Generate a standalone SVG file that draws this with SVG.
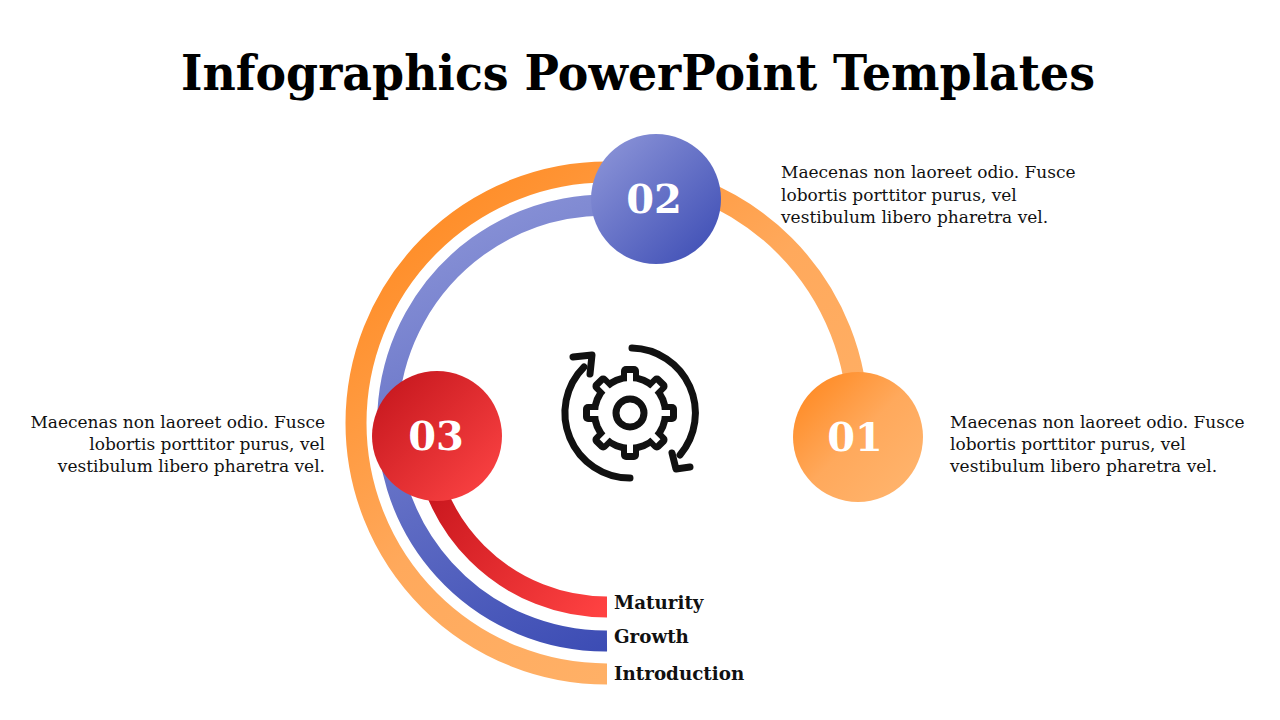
<svg xmlns="http://www.w3.org/2000/svg" width="1280" height="720" viewBox="0 0 1280 720">
<style>
.body{font-family:"DejaVu Serif","Liberation Serif",serif;font-size:17px;fill:#111}
.lab{font-family:"DejaVu Serif","Liberation Serif",serif;font-size:18.3px;font-weight:bold;fill:#111}
.num{font-family:"DejaVu Serif","Liberation Serif",serif;font-size:40px;font-weight:bold;fill:#fff;text-anchor:middle}
.band{fill:none;stroke-width:21;stroke-linecap:butt}
.ic{fill:none;stroke:#111;stroke-width:7;stroke-linecap:round;stroke-linejoin:round}
</style>
<defs>
<linearGradient id="gO" gradientUnits="userSpaceOnUse" x1="360" y1="180" x2="700" y2="600"><stop offset="0" stop-color="#FF861A"/><stop offset="0.6" stop-color="#FFA95C"/><stop offset="1" stop-color="#FFB066"/></linearGradient>
<linearGradient id="gB" gradientUnits="userSpaceOnUse" x1="400" y1="220" x2="607" y2="650"><stop offset="0" stop-color="#8C95D8"/><stop offset="1" stop-color="#3C4CB4"/></linearGradient>
<linearGradient id="gR" gradientUnits="userSpaceOnUse" x1="430" y1="480" x2="607" y2="610"><stop offset="0" stop-color="#C8161D"/><stop offset="1" stop-color="#FF4242"/></linearGradient>
<linearGradient id="c1" x1="0" y1="0" x2="1" y2="1"><stop offset="0" stop-color="#FF8418"/><stop offset="0.5" stop-color="#FFA95C"/><stop offset="1" stop-color="#FFB670"/></linearGradient>
<linearGradient id="c2" x1="0" y1="0" x2="1" y2="1"><stop offset="0" stop-color="#9199DA"/><stop offset="1" stop-color="#3A4AB3"/></linearGradient>
<linearGradient id="c3" x1="0" y1="0" x2="1" y2="1"><stop offset="0" stop-color="#C2141B"/><stop offset="1" stop-color="#FF4646"/></linearGradient>
</defs>
<text x="638" y="90" text-anchor="middle" font-family="DejaVu Serif, Liberation Serif, serif" font-size="48" font-weight="bold" fill="#000" textLength="914" lengthAdjust="spacingAndGlyphs">Infographics PowerPoint Templates</text>
<g id="connectors">
<path class="band" stroke="url(#gO)" d="M 607 674 A 251 251 0 1 1 858 423"/>
<path class="band" stroke="url(#gB)" d="M 607 641 A 218 218 0 1 1 652 210"/>
<path class="band" stroke="url(#gR)" d="M 607 607 A 184 184 0 0 1 423 423"/>
</g>
<g id="node-01"><circle cx="858" cy="437" r="65" fill="url(#c1)"/><text class="num" x="855" y="451">01</text></g>
<g id="node-02"><circle cx="656" cy="199" r="65" fill="url(#c2)"/><text class="num" x="654" y="213">02</text></g>
<g id="node-03"><circle cx="437" cy="436" r="65" fill="url(#c3)"/><text class="num" x="436" y="450">03</text></g>
<g id="icon">
<path class="ic" d="M 630 478 A 65 65 0 0 1 584 367"/>
<path class="ic" d="M 573 357 L 592 355 L 590 374"/>
<path class="ic" d="M 632 348 A 65 65 0 0 1 680 455"/>
<path class="ic" d="M 672 453 L 676 469 L 690 467"/>
<g fill="#111">
<circle cx="630" cy="413" r="39"/>
<rect x="621" y="366" width="18" height="22" rx="5" transform="rotate(0 630 413)"/>
<rect x="621" y="366" width="18" height="22" rx="5" transform="rotate(45 630 413)"/>
<rect x="621" y="366" width="18" height="22" rx="5" transform="rotate(90 630 413)"/>
<rect x="621" y="366" width="18" height="22" rx="5" transform="rotate(135 630 413)"/>
<rect x="621" y="366" width="18" height="22" rx="5" transform="rotate(180 630 413)"/>
<rect x="621" y="366" width="18" height="22" rx="5" transform="rotate(225 630 413)"/>
<rect x="621" y="366" width="18" height="22" rx="5" transform="rotate(270 630 413)"/>
<rect x="621" y="366" width="18" height="22" rx="5" transform="rotate(315 630 413)"/>
</g>
<g fill="#fff">
<circle cx="630" cy="413" r="32"/>
<rect x="627" y="373" width="6" height="15" transform="rotate(0 630 413)"/>
<rect x="627" y="373" width="6" height="15" transform="rotate(45 630 413)"/>
<rect x="627" y="373" width="6" height="15" transform="rotate(90 630 413)"/>
<rect x="627" y="373" width="6" height="15" transform="rotate(135 630 413)"/>
<rect x="627" y="373" width="6" height="15" transform="rotate(180 630 413)"/>
<rect x="627" y="373" width="6" height="15" transform="rotate(225 630 413)"/>
<rect x="627" y="373" width="6" height="15" transform="rotate(270 630 413)"/>
<rect x="627" y="373" width="6" height="15" transform="rotate(315 630 413)"/>
</g>
<circle cx="630" cy="413" r="14" fill="none" stroke="#111" stroke-width="7"/>
</g>
<g id="text-02" class="body"><text x="781" y="178">Maecenas non laoreet odio. Fusce</text><text x="781" y="201">lobortis porttitor purus, vel</text><text x="781" y="223">vestibulum libero pharetra vel.</text></g>
<g id="text-01" class="body"><text x="950" y="428">Maecenas non laoreet odio. Fusce</text><text x="950" y="450">lobortis porttitor purus, vel</text><text x="950" y="472">vestibulum libero pharetra vel.</text></g>
<g id="text-03" class="body" text-anchor="end"><text x="325" y="428">Maecenas non laoreet odio. Fusce</text><text x="325" y="450">lobortis porttitor purus, vel</text><text x="325" y="472">vestibulum libero pharetra vel.</text></g>
<g id="labels"><text class="lab" x="614" y="609">Maturity</text><text class="lab" x="614" y="643">Growth</text><text class="lab" x="614" y="680">Introduction</text></g>
</svg>
